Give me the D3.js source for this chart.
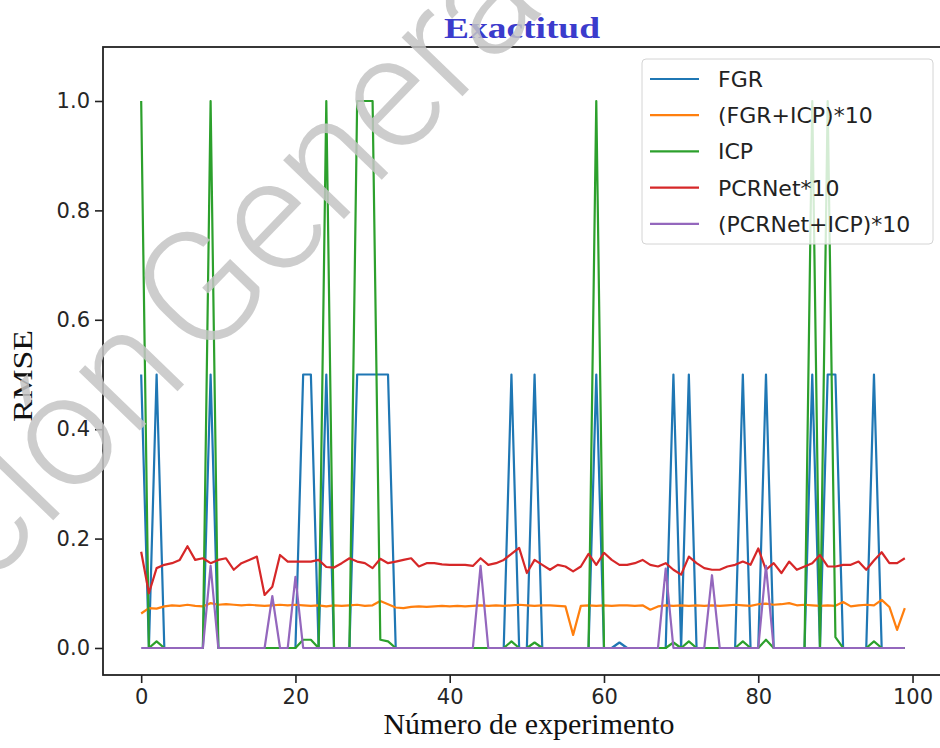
<!DOCTYPE html>
<html>
<head>
<meta charset="utf-8">
<script src="https://d3js.org/d3.v7.min.js"></script>
<style>
    body { margin: 0; background: white; }
    .tick text { font-family: "DejaVu Sans", sans-serif; font-size: 21px; fill: #262626; }
    .tick line { stroke: #222; stroke-width: 1.6; }
    .domain { display: none; }
</style>
</head>
<body>
<svg id="chart"></svg>
<script>
var width = 940;
var height = 748;
var plot = {left: 103, right: 943, top: 47, bottom: 675};

// x: experiment number 0..99
var experiments = d3.range(100);

var fgr = [
    0.5, 0, 0.5, 0, 0, 0, 0, 0, 0, 0.5,
    0, 0, 0, 0, 0, 0, 0, 0, 0, 0,
    0, 0.5, 0.5, 0, 0.5, 0, 0, 0, 0.5, 0.5,
    0.5, 0.5, 0.5, 0, 0, 0, 0, 0, 0, 0,
    0, 0, 0, 0, 0, 0, 0, 0, 0.5, 0,
    0, 0.5, 0, 0, 0, 0, 0, 0, 0, 0.5,
    0, 0, 0.01, 0, 0, 0, 0, 0, 0, 0.5,
    0, 0.5, 0, 0, 0, 0, 0, 0, 0.5, 0,
    0, 0.5, 0, 0, 0, 0, 0, 0.5, 0, 0.5,
    0.5, 0, 0, 0, 0, 0.5, 0, 0, 0, 0
];

var fgrIcp = [
    0.063, 0.073, 0.072, 0.076, 0.078, 0.077, 0.079, 0.077, 0.076, 0.082,
    0.079, 0.080, 0.079, 0.078, 0.079, 0.078, 0.077, 0.078, 0.079, 0.078,
    0.079, 0.078, 0.077, 0.078, 0.076, 0.078, 0.077, 0.078, 0.079, 0.077,
    0.078, 0.086, 0.080, 0.074, 0.073, 0.075, 0.076, 0.075, 0.076, 0.077,
    0.076, 0.077, 0.076, 0.077, 0.078, 0.077, 0.078, 0.077, 0.078, 0.079,
    0.078, 0.077, 0.078, 0.078, 0.077, 0.076, 0.024, 0.077, 0.078, 0.077,
    0.078, 0.077, 0.078, 0.078, 0.077, 0.078, 0.070, 0.076, 0.078, 0.077,
    0.078, 0.077, 0.078, 0.077, 0.078, 0.077, 0.078, 0.079, 0.078, 0.077,
    0.080, 0.081, 0.079, 0.080, 0.082, 0.078, 0.079, 0.078, 0.077, 0.078,
    0.077, 0.084, 0.076, 0.078, 0.079, 0.078, 0.088, 0.075, 0.033, 0.073
];

var icp = [
    1, 0, 0.012, 0, 0, 0, 0, 0, 0, 1,
    0, 0, 0, 0, 0, 0, 0, 0, 0, 0,
    0, 0.015, 0.015, 0, 1, 0, 0, 0, 1, 1,
    1, 0.015, 0.012, 0, 0, 0, 0, 0, 0, 0,
    0, 0, 0, 0, 0, 0, 0, 0, 0.012, 0,
    0, 0.01, 0, 0, 0, 0, 0, 0, 0, 1,
    0, 0, 0, 0, 0, 0, 0, 0, 0, 0.01,
    0, 0.012, 0, 0, 0, 0, 0, 0, 0.012, 0,
    0, 0.015, 0, 0, 0, 0, 0, 1, 0, 1,
    0.02, 0, 0, 0, 0, 0.012, 0, 0, 0, 0
];

var pcrnet = [
    0.176, 0.100, 0.146, 0.152, 0.155, 0.161, 0.186, 0.161, 0.164, 0.155,
    0.161, 0.164, 0.143, 0.155, 0.161, 0.167, 0.097, 0.112, 0.170, 0.158,
    0.158, 0.158, 0.158, 0.161, 0.148, 0.147, 0.155, 0.164, 0.158, 0.155,
    0.146, 0.163, 0.155, 0.158, 0.161, 0.164, 0.149, 0.155, 0.155, 0.153,
    0.152, 0.152, 0.152, 0.150, 0.164, 0.152, 0.155, 0.161, 0.172, 0.183,
    0.137, 0.161, 0.152, 0.143, 0.152, 0.149, 0.140, 0.149, 0.172, 0.152,
    0.174, 0.161, 0.152, 0.152, 0.155, 0.161, 0.152, 0.149, 0.155, 0.143,
    0.134, 0.167, 0.155, 0.146, 0.143, 0.143, 0.149, 0.152, 0.158, 0.152,
    0.182, 0.143, 0.155, 0.137, 0.158, 0.143, 0.149, 0.155, 0.170, 0.149,
    0.149, 0.152, 0.152, 0.158, 0.143, 0.160, 0.175, 0.155, 0.155, 0.164
];

var pcrnetIcp = [
    0, 0, 0, 0, 0, 0, 0, 0, 0, 0.15,
    0, 0, 0, 0, 0, 0, 0, 0.095, 0, 0,
    0.13, 0, 0, 0, 0, 0, 0, 0, 0, 0,
    0, 0, 0, 0, 0, 0, 0, 0, 0, 0,
    0, 0, 0, 0, 0.15, 0, 0, 0, 0, 0,
    0, 0, 0, 0, 0, 0, 0, 0, 0, 0,
    0, 0, 0, 0, 0, 0, 0, 0, 0.145, 0,
    0, 0, 0, 0, 0.133, 0, 0, 0, 0, 0,
    0, 0.15, 0, 0, 0, 0, 0, 0, 0, 0,
    0, 0, 0, 0, 0, 0, 0, 0, 0, 0
];

var seriesNames = ["FGR", "(FGR+ICP)*10", "ICP", "PCRNet*10", "(PCRNet+ICP)*10"];
var seriesColours = ["#1f77b4", "#ff7f0e", "#2ca02c", "#d62728", "#9467bd"];
var seriesValues = [fgr, fgrIcp, icp, pcrnet, pcrnetIcp];

var xTicks = [0, 20, 40, 60, 80, 100];
var yTicks = [0.0, 0.2, 0.4, 0.6, 0.8, 1.0];

var svg = d3.select("#chart").attr("width", width).attr("height", height);

var scaleX = d3.scaleLinear().domain([-4.95, 103.95]).range([plot.left, plot.right]);
var scaleY = d3.scaleLinear().domain([-0.0494, 1.0987]).range([plot.bottom, plot.top]);

function addAxis() {
    var axisX = d3.axisBottom(scaleX).tickValues(xTicks).tickFormat(d3.format("d")).tickSize(8).tickPadding(6);
    var axisY = d3.axisLeft(scaleY).tickValues(yTicks).tickFormat(d3.format(".1f")).tickSize(8).tickPadding(5);

    svg.append("g")
        .attr("class", "axis")
        .attr("transform", "translate(0," + plot.bottom + ")")
        .call(axisX);
    svg.append("g")
        .attr("class", "axis")
        .attr("transform", "translate(" + plot.left + ",0)")
        .call(axisY);
}

function drawLines() {
    svg.append("clipPath").attr("id", "clip")
        .append("rect")
        .attr("x", plot.left).attr("y", plot.top)
        .attr("width", plot.right - plot.left).attr("height", plot.bottom - plot.top);

    var line = d3.line()
        .x(function(d, i) {return scaleX(experiments[i])})
        .y(function(d) {return scaleY(d)});

    svg.append("g").attr("clip-path", "url(#clip)")
        .selectAll("path")
        .data(seriesValues)
        .enter().append("path")
        .attr("d", line)
        .attr("fill", "none")
        .attr("stroke", function(d, i) {return seriesColours[i]})
        .attr("stroke-width", 2.2)
        .attr("stroke-linejoin", "round");
}

function drawFrame() {
    svg.append("rect")
        .attr("x", plot.left).attr("y", plot.top)
        .attr("width", plot.right - plot.left).attr("height", plot.bottom - plot.top)
        .attr("fill", "none")
        .attr("stroke", "#222")
        .attr("stroke-width", 1.8);
}

function addLegend() {
    var legend = svg.append("g").attr("transform", "translate(642,59)");
    legend.append("rect")
        .attr("width", 291).attr("height", 185).attr("rx", 4)
        .attr("fill", "white").attr("fill-opacity", 0.8)
        .attr("stroke", "#d4d4d4");

    var rows = legend.selectAll("g.row")
        .data(seriesNames)
        .enter().append("g")
        .attr("class", "row")
        .attr("transform", function(d, i) {return "translate(0," + (20 + i * 36.2) + ")"});
    rows.append("line")
        .attr("x1", 8).attr("x2", 57)
        .attr("stroke", function(d, i) {return seriesColours[i]})
        .attr("stroke-width", 2.2);
    rows.append("text")
        .text(function(d) {return d})
        .attr("x", 76)
        .attr("dy", "0.36em")
        .attr("font-family", "DejaVu Sans, sans-serif")
        .attr("font-size", 22)
        .attr("fill", "#222");
}

function addLabels() {
    svg.append("text")
        .text("Exactitud")
        .attr("x", 522).attr("y", 38)
        .attr("text-anchor", "middle")
        .attr("font-family", "Liberation Serif, serif")
        .attr("font-weight", "bold")
        .attr("font-size", 30)
        .attr("textLength", 156).attr("lengthAdjust", "spacingAndGlyphs")
        .attr("fill", "#3b3bcc");

    svg.append("text")
        .text("Número de experimento")
        .attr("x", 529).attr("y", 734)
        .attr("text-anchor", "middle")
        .attr("font-family", "Liberation Serif, serif")
        .attr("font-size", 29)
        .attr("textLength", 291).attr("lengthAdjust", "spacingAndGlyphs")
        .attr("fill", "#111");

    svg.append("text")
        .text("RMSE")
        .attr("transform", "rotate(-90, 32, 376)")
        .attr("x", 32).attr("y", 376)
        .attr("text-anchor", "middle")
        .attr("font-family", "Liberation Serif, serif")
        .attr("font-size", 27)
        .attr("textLength", 92).attr("lengthAdjust", "spacingAndGlyphs")
        .attr("fill", "#111");
}

function addWatermark() {
    // grey watermark across the picture
    var mark = svg.append("g")
        .attr("transform", "translate(202,366) rotate(-46)")
        .attr("font-family", "Roboto, sans-serif")
        .attr("font-weight", 300)
        .attr("font-size", 160)
        .attr("fill", "#c4c4c4")
        .attr("fill-opacity", 0.85);
    mark.append("text").text("Dirección").attr("x", -14).attr("text-anchor", "end");
    mark.append("text").text("General de Bibliotecas").attr("x", 0);
}

drawLines();
drawFrame();
addAxis();
addLegend();
addLabels();
addWatermark();
</script>
</body>
</html>
